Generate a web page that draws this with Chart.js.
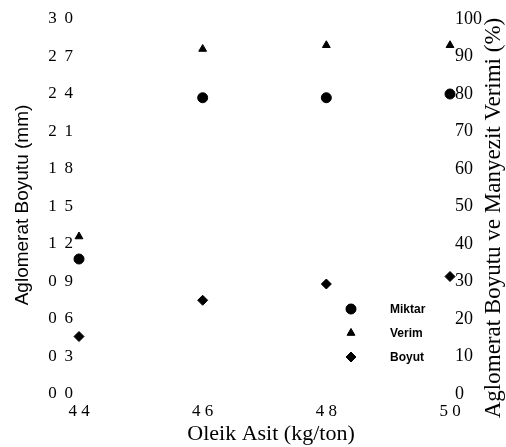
<!DOCTYPE html>
<html>
<head>
<meta charset="utf-8">
<script src="https://cdn.jsdelivr.net/npm/chart.js@4/dist/chart.umd.min.js"></script>
<style>
  html,body{margin:0;padding:0;background:#fff}
  #wrap{width:506px;height:447px;position:relative}
</style>
</head>
<body>
<div id="wrap"><canvas id="c" width="506" height="447"></canvas></div>
<script>
// oleik asit (kg/ton)
var acid = [4.4, 4.6, 4.8, 5.0];
// right axis (%)
var miktar = [36, 79, 79, 80];
var verim = [42, 92, 93, 93];
// left axis (mm)
var boyut = [0.46, 0.75, 0.88, 0.94];

var seriesNames = ['Miktar', 'Verim', 'Boyut'];
var leftTitle = 'Aglomerat Boyutu (mm)';
var rightTitle = 'Aglomerat Boyutu ve Manyezit Verimi (%)';
var xTitle = 'Oleik Asit (kg/ton)';

var SERIF = '"Liberation Serif", "DejaVu Serif", serif';
var SANS = '"Liberation Sans", Arial, sans-serif';

function pts(ys){ return acid.map(function(x,i){ return {x:x, y:ys[i]}; }); }
// "2.4" -> "2 4" like the scanned labels (decimal point lost)
function spaced(v, gap){ return v.toFixed(1).replace('.', gap); }

var extras = {
  id:'extras',
  afterDraw:function(chart){
    var ctx = chart.ctx;
    ctx.save();
    ctx.fillStyle = '#000';
    ctx.textAlign = 'center';
    ctx.textBaseline = 'middle';
    // left title
    ctx.font = '19px ' + SANS;
    ctx.save();
    ctx.translate(23, 205);
    ctx.rotate(-Math.PI/2);
    ctx.fillText(leftTitle, 0, 0);
    ctx.restore();
    // right title, also read bottom to top
    ctx.font = '23px ' + SERIF;
    ctx.save();
    ctx.translate(494, 218);
    ctx.rotate(-Math.PI/2);
    ctx.fillText(rightTitle, 0, 0);
    ctx.restore();
    // x title
    ctx.font = '22px ' + SERIF;
    ctx.fillText(xTitle, 271, 434);
    // legend
    var ds = chart.data.datasets;
    ctx.textAlign = 'left';
    ctx.font = 'bold 12px ' + SANS;
    for (var i = 0; i < ds.length; i++) {
      var y = 309 + i*24;
      Chart.helpers.drawPoint(ctx, {pointStyle: ds[i].pointStyle, radius: ds[i].pointRadius, rotation: 0, borderWidth: 1}, 351, y);
      ctx.fill();
      ctx.fillText(ds[i].label, 390, y + 1);
    }
    ctx.restore();
  }
};

new Chart(document.getElementById('c'), {
  type:'scatter',
  data:{
    datasets:[
      {label:seriesNames[0], data:pts(miktar), yAxisID:'yR', pointStyle:'circle', pointRadius:5, backgroundColor:'#000', borderColor:'#000', clip:false},
      {label:seriesNames[1], data:pts(verim), yAxisID:'yR', pointStyle:'triangle', pointRadius:4.5, backgroundColor:'#000', borderColor:'#000', clip:false},
      {label:seriesNames[2], data:pts(boyut), yAxisID:'y', pointStyle:'rectRot', pointRadius:5, backgroundColor:'#000', borderColor:'#000', clip:false}
    ]
  },
  options:{
    responsive:false,
    animation:false,
    layout:{padding:{top:19, left:0, right:0, bottom:0}},
    plugins:{legend:{display:false}, tooltip:{enabled:false}},
    scales:{
      x:{
        type:'linear', min:4.4, max:5.0,
        grid:{display:false, drawTicks:false}, border:{display:false},
        ticks:{stepSize:0.2, padding:7, color:'#000', font:{family:SERIF, size:17}, callback:function(v){ return spaced(v, ' '); }},
        afterFit:function(s){ s.height = 53; }
      },
      y:{
        position:'left', min:0, max:3.0,
        grid:{display:false, drawTicks:false}, border:{display:false},
        ticks:{stepSize:0.3, padding:6, color:'#000', font:{family:SERIF, size:17}, callback:function(v){ return spaced(v, ' \u2009'); }},
        afterFit:function(s){ s.width = 79; }
      },
      yR:{
        position:'right', min:0, max:100,
        grid:{display:false, drawTicks:false}, border:{display:false},
        ticks:{stepSize:10, padding:5, color:'#000', font:{family:SERIF, size:18}, callback:function(v){ return String(v); }},
        afterFit:function(s){ s.width = 56; }
      }
    }
  },
  plugins:[extras]
});
</script>
</body>
</html>
